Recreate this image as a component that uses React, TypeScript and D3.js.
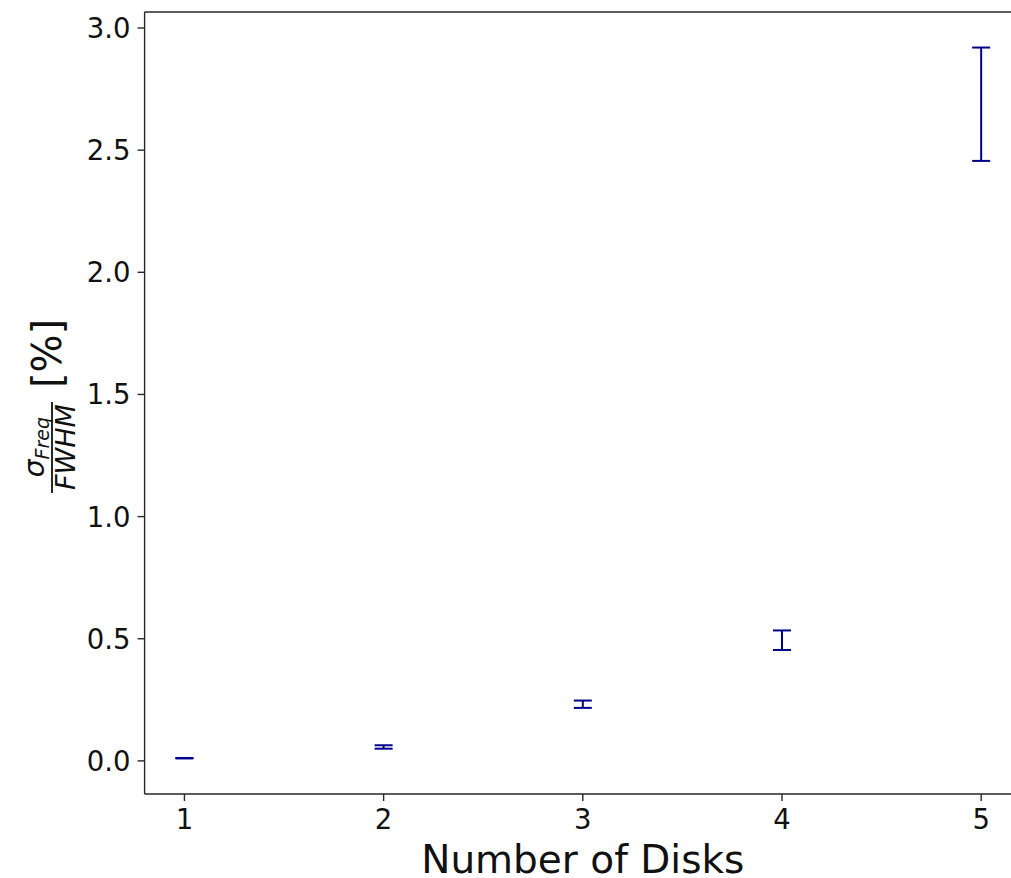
import React from "react";
import * as d3 from "d3";

// Number of disks on the x axis
const disks: number[] = [1, 2, 3, 4, 5];
// Relative frequency spread, sigma_Freq / FWHM in percent
const meanValues: number[] = [0.011, 0.057, 0.232, 0.494, 2.688];
const errValues: number[] = [0.001, 0.007, 0.015, 0.04, 0.232];
const xTickValues: number[] = [1, 2, 3, 4, 5];
const yTickValues: number[] = [0, 0.5, 1.0, 1.5, 2.0, 2.5, 3.0];

const W = 1011;
const H = 878;
const FONT = "'DejaVu Sans', Verdana, sans-serif";
const BAR_COLOR = "#00008b";
const SPINE = "#262626";

export default function App() {
  const lo = d3.min(meanValues.map((m, i) => m - errValues[i])) as number;
  const hi = d3.max(meanValues.map((m, i) => m + errValues[i])) as number;
  const yPad = (hi - lo) * 0.05;
  const xPad = (d3.max(disks)! - d3.min(disks)!) * 0.05;

  const left = 144.6;
  const right = 1021;
  const top = 12;
  const bottom = 794;

  const x = d3
    .scaleLinear()
    .domain([d3.min(disks)! - xPad, d3.max(disks)! + xPad])
    .range([left, right]);
  const y = d3.scaleLinear().domain([lo - yPad, hi + yPad]).range([bottom, top]);

  const capHalf = 9;
  const cy = (top + bottom) / 2;

  return (
    <svg
      width={W}
      height={H}
      style={{ position: "absolute", left: 0, top: 0, background: "#fff" }}
      fontFamily={FONT}
    >
      {/* error bars */}
      <g stroke={BAR_COLOR} strokeWidth={2} fill="none">
        {disks.map((d, i) => {
          const px = x(d);
          const y0 = y(meanValues[i] - errValues[i]);
          const y1 = y(meanValues[i] + errValues[i]);
          return (
            <g key={d}>
              <line x1={px} x2={px} y1={y0} y2={y1} />
              <line x1={px - capHalf} x2={px + capHalf} y1={y0} y2={y0} />
              <line x1={px - capHalf} x2={px + capHalf} y1={y1} y2={y1} />
            </g>
          );
        })}
      </g>

      {/* spines */}
      <g stroke={SPINE} strokeWidth={1.4} fill="none">
        <line x1={left} x2={left} y1={top} y2={bottom} />
        <line x1={left} x2={right} y1={bottom} y2={bottom} />
        <line x1={left} x2={right} y1={top} y2={top} />
        <line x1={right} x2={right} y1={top} y2={bottom} />
      </g>

      {/* y ticks */}
      <g>
        {yTickValues.map((t) => (
          <g key={t} transform={`translate(${left},${y(t)})`}>
            <line x1={-7} x2={0} stroke={SPINE} strokeWidth={1.4} />
            <text
              x={-14}
              dy="0.36em"
              textAnchor="end"
              fontSize={27.5}
              fill="#111"
            >
              {d3.format(".1f")(t)}
            </text>
          </g>
        ))}
      </g>

      {/* x ticks */}
      <g>
        {xTickValues.map((t) => (
          <g key={t} transform={`translate(${x(t)},${bottom})`}>
            <line y1={0} y2={7} stroke={SPINE} strokeWidth={1.4} />
            <text y={35} textAnchor="middle" fontSize={27.5} fill="#111">
              {t}
            </text>
          </g>
        ))}
      </g>

      {/* x axis label */}
      <text
        x={(left + right) / 2}
        y={873}
        textAnchor="middle"
        fontSize={39}
        fill="#111"
      >
        Number of Disks
      </text>

      {/* y axis label: sigma_Freq / FWHM [%] */}
      <g transform={`translate(0,${cy}) rotate(-90)`} fill="#111">
        <line x1={-90} x2={1} y1={52} y2={52} stroke="#111" strokeWidth={1.8} />
        <text x={-44} y={44} textAnchor="middle" fontSize={28} fontStyle="italic">
          <tspan>σ</tspan>
          <tspan fontSize={19} dy={5}>
            Freq
          </tspan>
        </text>
        <text x={-44} y={75} textAnchor="middle" fontSize={27} fontStyle="italic">
          FWHM
        </text>
        <text x={15} y={61} fontSize={40}>
          [%]
        </text>
      </g>
    </svg>
  );
}
